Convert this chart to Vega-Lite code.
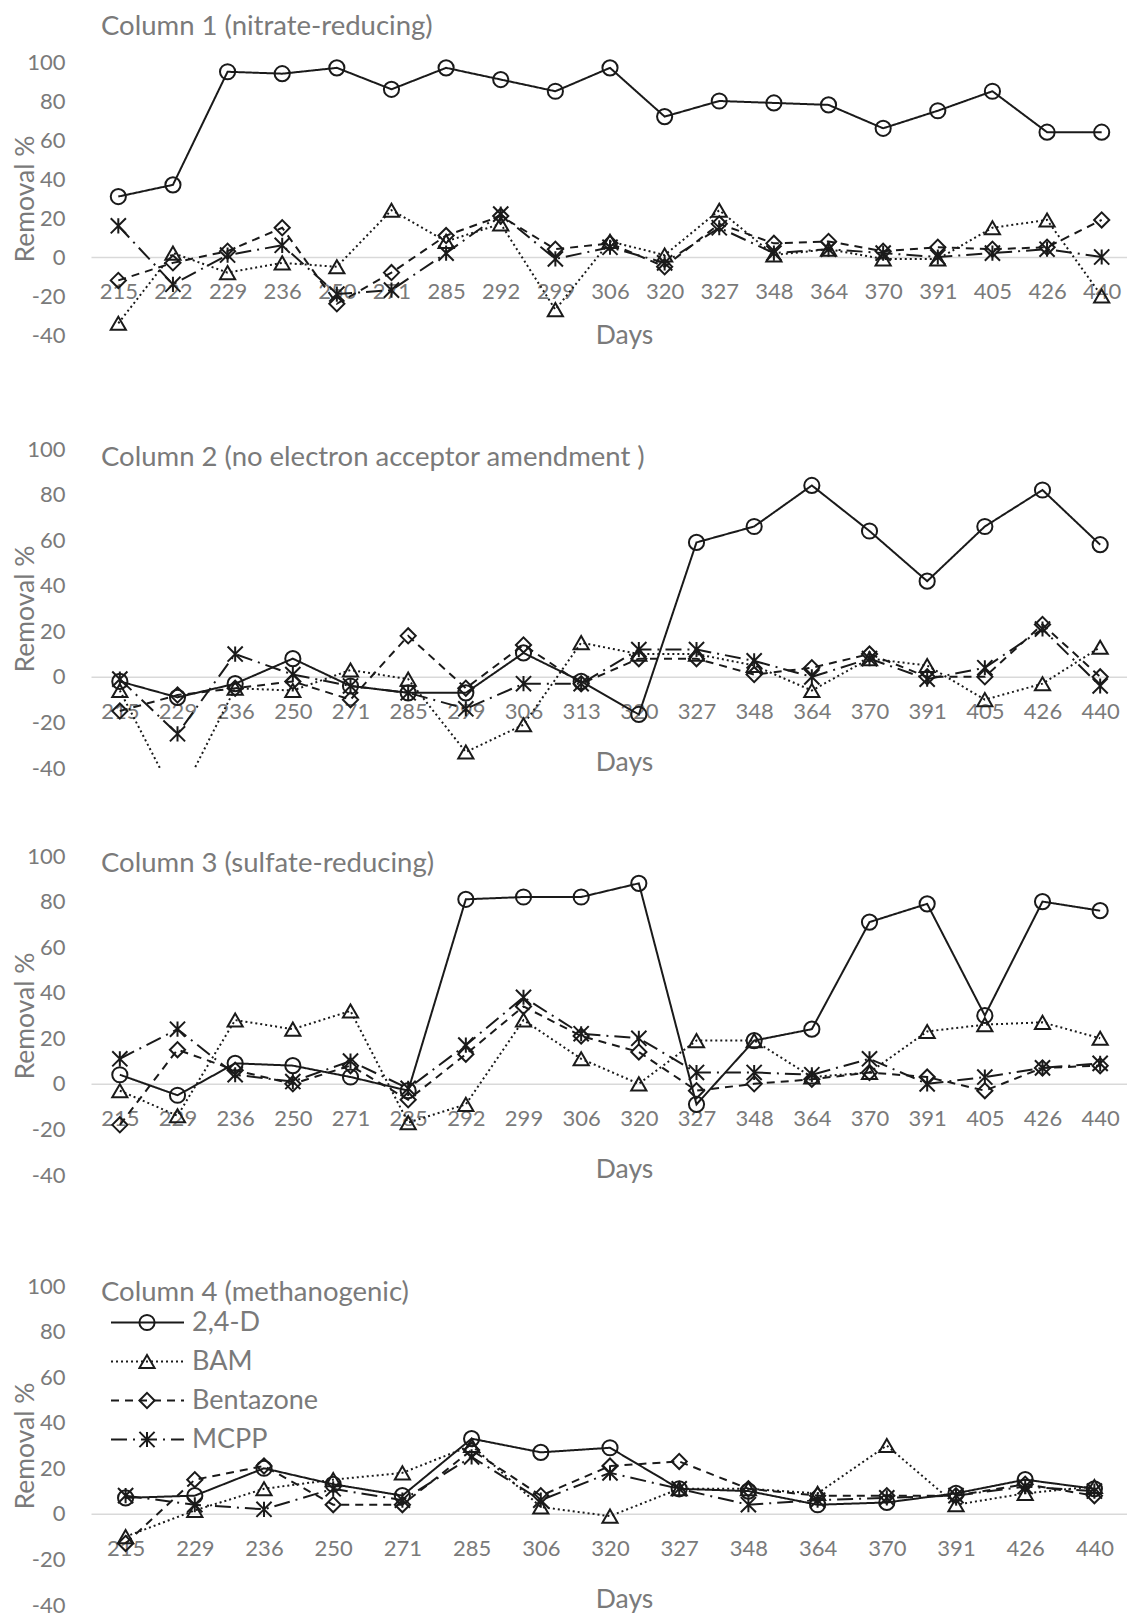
{
  "$schema": "https://vega.github.io/schema/vega-lite/v6.json",
  "padding": {"left": 11, "top": 12, "right": 0, "bottom": 0},
  "background": "white",
  "config": {
    "font": "Lato",
    "view": {"stroke": null},
    "axis": {"grid": false, "ticks": false, "labelColor": "#7a7a7a", "titleColor": "#7a7a7a", "labelFontSize": 22, "titleFontSize": 26.5, "titleFontWeight": "normal"},
    "axisX": {"domainColor": "#d9d9d9", "domainWidth": 1.5, "labelAngle": 0, "labelPadding": 25, "titleX": 533, "titleBaseline": "middle", "labelOverlap": false},
    "axisY": {"domain": false, "labelPadding": 26, "titleX": -66, "titleBaseline": "middle", "labelExpr": "'' + datum.value"},
    "title": {"anchor": "start", "frame": "group", "fontSize": 27.5, "fontWeight": "normal", "color": "#7a7a7a", "dx": 10}
  },
  "data": {"values": [
    {"p":1,"d":"215","c":"2,4-D","v":31},{"p":1,"d":"222","c":"2,4-D","v":37},{"p":1,"d":"229","c":"2,4-D","v":95},{"p":1,"d":"236","c":"2,4-D","v":94},{"p":1,"d":"250","c":"2,4-D","v":97},{"p":1,"d":"271","c":"2,4-D","v":86},{"p":1,"d":"285","c":"2,4-D","v":97},{"p":1,"d":"292","c":"2,4-D","v":91},{"p":1,"d":"299","c":"2,4-D","v":85},{"p":1,"d":"306","c":"2,4-D","v":97},{"p":1,"d":"320","c":"2,4-D","v":72},{"p":1,"d":"327","c":"2,4-D","v":80},{"p":1,"d":"348","c":"2,4-D","v":79},{"p":1,"d":"364","c":"2,4-D","v":78},{"p":1,"d":"370","c":"2,4-D","v":66},{"p":1,"d":"391","c":"2,4-D","v":75},{"p":1,"d":"405","c":"2,4-D","v":85},{"p":1,"d":"426","c":"2,4-D","v":64},{"p":1,"d":"440","c":"2,4-D","v":64},
    {"p":1,"d":"215","c":"BAM","v":-34},{"p":1,"d":"222","c":"BAM","v":2},{"p":1,"d":"229","c":"BAM","v":-8},{"p":1,"d":"236","c":"BAM","v":-3},{"p":1,"d":"250","c":"BAM","v":-5},{"p":1,"d":"271","c":"BAM","v":24},{"p":1,"d":"285","c":"BAM","v":8},{"p":1,"d":"292","c":"BAM","v":17},{"p":1,"d":"299","c":"BAM","v":-27},{"p":1,"d":"306","c":"BAM","v":8},{"p":1,"d":"320","c":"BAM","v":1},{"p":1,"d":"327","c":"BAM","v":24},{"p":1,"d":"348","c":"BAM","v":1},{"p":1,"d":"364","c":"BAM","v":4},{"p":1,"d":"370","c":"BAM","v":-1},{"p":1,"d":"391","c":"BAM","v":-1},{"p":1,"d":"405","c":"BAM","v":15},{"p":1,"d":"426","c":"BAM","v":19},{"p":1,"d":"440","c":"BAM","v":-20},
    {"p":1,"d":"215","c":"Bentazone","v":-12},{"p":1,"d":"222","c":"Bentazone","v":-3},{"p":1,"d":"229","c":"Bentazone","v":3},{"p":1,"d":"236","c":"Bentazone","v":15},{"p":1,"d":"250","c":"Bentazone","v":-24},{"p":1,"d":"271","c":"Bentazone","v":-8},{"p":1,"d":"285","c":"Bentazone","v":11},{"p":1,"d":"292","c":"Bentazone","v":21},{"p":1,"d":"299","c":"Bentazone","v":4},{"p":1,"d":"306","c":"Bentazone","v":7},{"p":1,"d":"320","c":"Bentazone","v":-5},{"p":1,"d":"327","c":"Bentazone","v":17},{"p":1,"d":"348","c":"Bentazone","v":7},{"p":1,"d":"364","c":"Bentazone","v":8},{"p":1,"d":"370","c":"Bentazone","v":3},{"p":1,"d":"391","c":"Bentazone","v":5},{"p":1,"d":"405","c":"Bentazone","v":4},{"p":1,"d":"426","c":"Bentazone","v":5},{"p":1,"d":"440","c":"Bentazone","v":19},
    {"p":1,"d":"215","c":"MCPP","v":16},{"p":1,"d":"222","c":"MCPP","v":-14},{"p":1,"d":"229","c":"MCPP","v":1},{"p":1,"d":"236","c":"MCPP","v":6},{"p":1,"d":"250","c":"MCPP","v":-19},{"p":1,"d":"271","c":"MCPP","v":-17},{"p":1,"d":"285","c":"MCPP","v":2},{"p":1,"d":"292","c":"MCPP","v":22},{"p":1,"d":"299","c":"MCPP","v":-1},{"p":1,"d":"306","c":"MCPP","v":5},{"p":1,"d":"320","c":"MCPP","v":-3},{"p":1,"d":"327","c":"MCPP","v":15},{"p":1,"d":"348","c":"MCPP","v":2},{"p":1,"d":"364","c":"MCPP","v":4},{"p":1,"d":"370","c":"MCPP","v":2},{"p":1,"d":"391","c":"MCPP","v":0},{"p":1,"d":"405","c":"MCPP","v":2},{"p":1,"d":"426","c":"MCPP","v":4},{"p":1,"d":"440","c":"MCPP","v":0},

    {"p":2,"d":"215","c":"2,4-D","v":-2},{"p":2,"d":"229","c":"2,4-D","v":-9},{"p":2,"d":"236","c":"2,4-D","v":-3},{"p":2,"d":"250","c":"2,4-D","v":8},{"p":2,"d":"271","c":"2,4-D","v":-4},{"p":2,"d":"285","c":"2,4-D","v":-7},{"p":2,"d":"299","c":"2,4-D","v":-7},{"p":2,"d":"306","c":"2,4-D","v":10.5},{"p":2,"d":"313","c":"2,4-D","v":-2},{"p":2,"d":"320","c":"2,4-D","v":-16.5},{"p":2,"d":"327","c":"2,4-D","v":59},{"p":2,"d":"348","c":"2,4-D","v":66},{"p":2,"d":"364","c":"2,4-D","v":84},{"p":2,"d":"370","c":"2,4-D","v":64},{"p":2,"d":"391","c":"2,4-D","v":42},{"p":2,"d":"405","c":"2,4-D","v":66},{"p":2,"d":"426","c":"2,4-D","v":82},{"p":2,"d":"440","c":"2,4-D","v":58},
    {"p":2,"d":"215","c":"BAM","v":-6},{"p":2,"d":"229","c":"BAM","v":-55},{"p":2,"d":"236","c":"BAM","v":-5},{"p":2,"d":"250","c":"BAM","v":-6},{"p":2,"d":"271","c":"BAM","v":3},{"p":2,"d":"285","c":"BAM","v":-1},{"p":2,"d":"299","c":"BAM","v":-33},{"p":2,"d":"306","c":"BAM","v":-21},{"p":2,"d":"313","c":"BAM","v":15},{"p":2,"d":"320","c":"BAM","v":10},{"p":2,"d":"327","c":"BAM","v":10},{"p":2,"d":"348","c":"BAM","v":5},{"p":2,"d":"364","c":"BAM","v":-6},{"p":2,"d":"370","c":"BAM","v":8},{"p":2,"d":"391","c":"BAM","v":5},{"p":2,"d":"405","c":"BAM","v":-10},{"p":2,"d":"426","c":"BAM","v":-3},{"p":2,"d":"440","c":"BAM","v":13},
    {"p":2,"d":"215","c":"Bentazone","v":-15},{"p":2,"d":"229","c":"Bentazone","v":-8},{"p":2,"d":"236","c":"Bentazone","v":-5},{"p":2,"d":"250","c":"Bentazone","v":-2},{"p":2,"d":"271","c":"Bentazone","v":-10},{"p":2,"d":"285","c":"Bentazone","v":18},{"p":2,"d":"299","c":"Bentazone","v":-5},{"p":2,"d":"306","c":"Bentazone","v":14},{"p":2,"d":"313","c":"Bentazone","v":-3},{"p":2,"d":"320","c":"Bentazone","v":8},{"p":2,"d":"327","c":"Bentazone","v":8},{"p":2,"d":"348","c":"Bentazone","v":1},{"p":2,"d":"364","c":"Bentazone","v":4},{"p":2,"d":"370","c":"Bentazone","v":10},{"p":2,"d":"391","c":"Bentazone","v":0},{"p":2,"d":"405","c":"Bentazone","v":0},{"p":2,"d":"426","c":"Bentazone","v":23},{"p":2,"d":"440","c":"Bentazone","v":0},
    {"p":2,"d":"215","c":"MCPP","v":-1},{"p":2,"d":"229","c":"MCPP","v":-25},{"p":2,"d":"236","c":"MCPP","v":10},{"p":2,"d":"250","c":"MCPP","v":1},{"p":2,"d":"271","c":"MCPP","v":-4},{"p":2,"d":"285","c":"MCPP","v":-7},{"p":2,"d":"299","c":"MCPP","v":-14},{"p":2,"d":"306","c":"MCPP","v":-3},{"p":2,"d":"313","c":"MCPP","v":-3},{"p":2,"d":"320","c":"MCPP","v":12},{"p":2,"d":"327","c":"MCPP","v":12},{"p":2,"d":"348","c":"MCPP","v":7},{"p":2,"d":"364","c":"MCPP","v":0},{"p":2,"d":"370","c":"MCPP","v":8},{"p":2,"d":"391","c":"MCPP","v":-1},{"p":2,"d":"405","c":"MCPP","v":4},{"p":2,"d":"426","c":"MCPP","v":21},{"p":2,"d":"440","c":"MCPP","v":-4},

    {"p":3,"d":"215","c":"2,4-D","v":4},{"p":3,"d":"229","c":"2,4-D","v":-5},{"p":3,"d":"236","c":"2,4-D","v":9},{"p":3,"d":"250","c":"2,4-D","v":8},{"p":3,"d":"271","c":"2,4-D","v":3},{"p":3,"d":"285","c":"2,4-D","v":-3},{"p":3,"d":"292","c":"2,4-D","v":81},{"p":3,"d":"299","c":"2,4-D","v":82},{"p":3,"d":"306","c":"2,4-D","v":82},{"p":3,"d":"320","c":"2,4-D","v":88},{"p":3,"d":"327","c":"2,4-D","v":-9},{"p":3,"d":"348","c":"2,4-D","v":19},{"p":3,"d":"364","c":"2,4-D","v":24},{"p":3,"d":"370","c":"2,4-D","v":71},{"p":3,"d":"391","c":"2,4-D","v":79},{"p":3,"d":"405","c":"2,4-D","v":30},{"p":3,"d":"426","c":"2,4-D","v":80},{"p":3,"d":"440","c":"2,4-D","v":76},
    {"p":3,"d":"215","c":"BAM","v":-3},{"p":3,"d":"229","c":"BAM","v":-14},{"p":3,"d":"236","c":"BAM","v":28},{"p":3,"d":"250","c":"BAM","v":24},{"p":3,"d":"271","c":"BAM","v":32},{"p":3,"d":"285","c":"BAM","v":-17},{"p":3,"d":"292","c":"BAM","v":-9},{"p":3,"d":"299","c":"BAM","v":28},{"p":3,"d":"306","c":"BAM","v":11},{"p":3,"d":"320","c":"BAM","v":0},{"p":3,"d":"327","c":"BAM","v":19},{"p":3,"d":"348","c":"BAM","v":19},{"p":3,"d":"364","c":"BAM","v":3},{"p":3,"d":"370","c":"BAM","v":5},{"p":3,"d":"391","c":"BAM","v":23},{"p":3,"d":"405","c":"BAM","v":26},{"p":3,"d":"426","c":"BAM","v":27},{"p":3,"d":"440","c":"BAM","v":20},
    {"p":3,"d":"215","c":"Bentazone","v":-18},{"p":3,"d":"229","c":"Bentazone","v":15},{"p":3,"d":"236","c":"Bentazone","v":6},{"p":3,"d":"250","c":"Bentazone","v":0},{"p":3,"d":"271","c":"Bentazone","v":8},{"p":3,"d":"285","c":"Bentazone","v":-7},{"p":3,"d":"292","c":"Bentazone","v":13},{"p":3,"d":"299","c":"Bentazone","v":34},{"p":3,"d":"306","c":"Bentazone","v":21},{"p":3,"d":"320","c":"Bentazone","v":14},{"p":3,"d":"327","c":"Bentazone","v":-3},{"p":3,"d":"348","c":"Bentazone","v":0},{"p":3,"d":"364","c":"Bentazone","v":2},{"p":3,"d":"370","c":"Bentazone","v":5},{"p":3,"d":"391","c":"Bentazone","v":3},{"p":3,"d":"405","c":"Bentazone","v":-3},{"p":3,"d":"426","c":"Bentazone","v":7},{"p":3,"d":"440","c":"Bentazone","v":8},
    {"p":3,"d":"215","c":"MCPP","v":11},{"p":3,"d":"229","c":"MCPP","v":24},{"p":3,"d":"236","c":"MCPP","v":4},{"p":3,"d":"250","c":"MCPP","v":1},{"p":3,"d":"271","c":"MCPP","v":10},{"p":3,"d":"285","c":"MCPP","v":-2},{"p":3,"d":"292","c":"MCPP","v":17},{"p":3,"d":"299","c":"MCPP","v":38},{"p":3,"d":"306","c":"MCPP","v":22},{"p":3,"d":"320","c":"MCPP","v":20},{"p":3,"d":"327","c":"MCPP","v":5},{"p":3,"d":"348","c":"MCPP","v":5},{"p":3,"d":"364","c":"MCPP","v":4},{"p":3,"d":"370","c":"MCPP","v":11},{"p":3,"d":"391","c":"MCPP","v":0},{"p":3,"d":"405","c":"MCPP","v":3},{"p":3,"d":"426","c":"MCPP","v":7},{"p":3,"d":"440","c":"MCPP","v":9},

    {"p":4,"d":"215","c":"2,4-D","v":7},{"p":4,"d":"229","c":"2,4-D","v":8},{"p":4,"d":"236","c":"2,4-D","v":20},{"p":4,"d":"250","c":"2,4-D","v":13},{"p":4,"d":"271","c":"2,4-D","v":8},{"p":4,"d":"285","c":"2,4-D","v":33},{"p":4,"d":"306","c":"2,4-D","v":27},{"p":4,"d":"320","c":"2,4-D","v":29},{"p":4,"d":"327","c":"2,4-D","v":11},{"p":4,"d":"348","c":"2,4-D","v":10},{"p":4,"d":"364","c":"2,4-D","v":4},{"p":4,"d":"370","c":"2,4-D","v":5},{"p":4,"d":"391","c":"2,4-D","v":9},{"p":4,"d":"426","c":"2,4-D","v":15},{"p":4,"d":"440","c":"2,4-D","v":11},
    {"p":4,"d":"215","c":"BAM","v":-10},{"p":4,"d":"229","c":"BAM","v":1.5},{"p":4,"d":"236","c":"BAM","v":11},{"p":4,"d":"250","c":"BAM","v":15},{"p":4,"d":"271","c":"BAM","v":18},{"p":4,"d":"285","c":"BAM","v":30},{"p":4,"d":"306","c":"BAM","v":3},{"p":4,"d":"320","c":"BAM","v":-1},{"p":4,"d":"327","c":"BAM","v":11},{"p":4,"d":"348","c":"BAM","v":11},{"p":4,"d":"364","c":"BAM","v":9},{"p":4,"d":"370","c":"BAM","v":30},{"p":4,"d":"391","c":"BAM","v":4},{"p":4,"d":"426","c":"BAM","v":9},{"p":4,"d":"440","c":"BAM","v":12},
    {"p":4,"d":"215","c":"Bentazone","v":-13},{"p":4,"d":"229","c":"Bentazone","v":15},{"p":4,"d":"236","c":"Bentazone","v":21},{"p":4,"d":"250","c":"Bentazone","v":4},{"p":4,"d":"271","c":"Bentazone","v":4},{"p":4,"d":"285","c":"Bentazone","v":28},{"p":4,"d":"306","c":"Bentazone","v":8},{"p":4,"d":"320","c":"Bentazone","v":21},{"p":4,"d":"327","c":"Bentazone","v":23},{"p":4,"d":"348","c":"Bentazone","v":11},{"p":4,"d":"364","c":"Bentazone","v":8},{"p":4,"d":"370","c":"Bentazone","v":8},{"p":4,"d":"391","c":"Bentazone","v":8},{"p":4,"d":"426","c":"Bentazone","v":13},{"p":4,"d":"440","c":"Bentazone","v":8},
    {"p":4,"d":"215","c":"MCPP","v":8},{"p":4,"d":"229","c":"MCPP","v":4},{"p":4,"d":"236","c":"MCPP","v":2},{"p":4,"d":"250","c":"MCPP","v":11},{"p":4,"d":"271","c":"MCPP","v":6},{"p":4,"d":"285","c":"MCPP","v":25},{"p":4,"d":"306","c":"MCPP","v":6},{"p":4,"d":"320","c":"MCPP","v":18},{"p":4,"d":"327","c":"MCPP","v":11},{"p":4,"d":"348","c":"MCPP","v":4},{"p":4,"d":"364","c":"MCPP","v":6},{"p":4,"d":"370","c":"MCPP","v":7},{"p":4,"d":"391","c":"MCPP","v":8},{"p":4,"d":"426","c":"MCPP","v":12},{"p":4,"d":"440","c":"MCPP","v":10}
  ]},
  "resolve": {"scale": {"shape": "independent", "strokeDash": "independent"}},
  "spacing": 89,
  "vconcat": [
    {
      "width": 1038, "height": 273,
      "title": {"text": "Column 1 (nitrate-reducing)", "offset": 11},
      "transform": [{"filter": "datum.p == 1"}],
      "encoding": {
        "x": {"field": "d", "type": "ordinal", "scale": {"type": "point", "padding": 0.5}, "axis": {"title": "Days", "offset": -78, "titleY": 78, "labelPadding": 24}},
        "y": {"field": "v", "type": "quantitative", "scale": {"domain": [-40, 100], "nice": false}, "axis": {"title": "Removal %", "values": [-40, -20, 0, 20, 40, 60, 80, 100]}}
      },
      "layer": [
        {"mark": {"type": "line", "clip": true, "strokeWidth": 2, "color": "#1a1a1a"},
         "encoding": {"strokeDash": {"field": "c", "type": "nominal", "scale": {"domain": ["2,4-D", "BAM", "Bentazone", "MCPP"], "range": [[1, 0], [2, 3], [8, 6], [16, 6, 2, 6]]}, "legend": null}}},
        {"transform": [{"filter": "datum.v >= -40"}],
         "mark": {"type": "point", "filled": false, "size": 230, "strokeWidth": 2, "color": "#1a1a1a", "opacity": 1},
         "encoding": {"shape": {"field": "c", "type": "nominal", "scale": {"range": ["circle", "triangle-up", "diamond", "M -1 -1 L 1 1 M -1 1 L 1 -1 M 0 -1 L 0 1"]}, "legend": null}}}
      ]
    },
    {
      "spacing": 66,
      "resolve": {"scale": {"shape": "independent", "strokeDash": "independent"}},
      "vconcat": [
        {
          "width": 1038, "height": 319,
          "title": {"text": "Column 2 (no electron acceptor amendment )", "offset": -33},
          "transform": [{"filter": "datum.p == 2"}],
          "encoding": {
            "x": {"field": "d", "type": "ordinal", "scale": {"type": "point", "padding": 0.5}, "axis": {"title": "Days", "offset": -91.14, "titleY": 86}},
            "y": {"field": "v", "type": "quantitative", "scale": {"domain": [-40, 100], "nice": false}, "axis": {"title": "Removal %", "values": [-40, -20, 0, 20, 40, 60, 80, 100]}}
          },
          "layer": [
            {"mark": {"type": "line", "clip": true, "strokeWidth": 2, "color": "#1a1a1a"},
             "encoding": {"strokeDash": {"field": "c", "type": "nominal", "scale": {"domain": ["2,4-D", "BAM", "Bentazone", "MCPP"], "range": [[1, 0], [2, 3], [8, 6], [16, 6, 2, 6]]}, "legend": null}}},
            {"transform": [{"filter": "datum.v >= -40"}],
             "mark": {"type": "point", "filled": false, "size": 230, "strokeWidth": 2, "color": "#1a1a1a", "opacity": 1},
             "encoding": {"shape": {"field": "c", "type": "nominal", "scale": {"range": ["circle", "triangle-up", "diamond", "M -1 -1 L 1 1 M -1 1 L 1 -1 M 0 -1 L 0 1"]}, "legend": null}}}
          ]
        },
        {
          "width": 1038, "height": 319,
          "title": {"text": "Column 3 (sulfate-reducing)", "offset": -32},
          "transform": [{"filter": "datum.p == 3"}],
          "encoding": {
            "x": {"field": "d", "type": "ordinal", "scale": {"type": "point", "padding": 0.5}, "axis": {"title": "Days", "offset": -91.14, "titleY": 86}},
            "y": {"field": "v", "type": "quantitative", "scale": {"domain": [-40, 100], "nice": false}, "axis": {"title": "Removal %", "values": [-40, -20, 0, 20, 40, 60, 80, 100]}}
          },
          "layer": [
            {"mark": {"type": "line", "clip": true, "strokeWidth": 2, "color": "#1a1a1a"},
             "encoding": {"strokeDash": {"field": "c", "type": "nominal", "scale": {"domain": ["2,4-D", "BAM", "Bentazone", "MCPP"], "range": [[1, 0], [2, 3], [8, 6], [16, 6, 2, 6]]}, "legend": null}}},
            {"transform": [{"filter": "datum.v >= -40"}],
             "mark": {"type": "point", "filled": false, "size": 230, "strokeWidth": 2, "color": "#1a1a1a", "opacity": 1},
             "encoding": {"shape": {"field": "c", "type": "nominal", "scale": {"range": ["circle", "triangle-up", "diamond", "M -1 -1 L 1 1 M -1 1 L 1 -1 M 0 -1 L 0 1"]}, "legend": null}}}
          ]
        }
      ]
    },
    {
      "width": 1038, "height": 319,
      "title": {"text": "Column 4 (methanogenic)", "offset": -31.5},
      "transform": [{"filter": "datum.p == 4"}],
      "encoding": {
        "x": {"field": "d", "type": "ordinal", "scale": {"type": "point", "padding": 0.5}, "axis": {"title": "Days", "offset": -91.14, "titleY": 86}},
        "y": {"field": "v", "type": "quantitative", "scale": {"domain": [-40, 100], "nice": false}, "axis": {"title": "Removal %", "values": [-40, -20, 0, 20, 40, 60, 80, 100]}}
      },
      "layer": [
        {"mark": {"type": "line", "clip": true, "strokeWidth": 2, "color": "#1a1a1a"},
         "encoding": {"strokeDash": {"field": "c", "type": "nominal", "scale": {"domain": ["2,4-D", "BAM", "Bentazone", "MCPP"], "range": [[1, 0], [2, 3], [8, 6], [16, 6, 2, 6]]},
           "legend": {"orient": "none", "legendX": 19, "legendY": 17, "title": null, "symbolType": "stroke", "symbolSize": 5329, "symbolStrokeWidth": 2, "symbolStrokeColor": "#1a1a1a", "labelFontSize": 27, "labelColor": "#7a7a7a", "labelOffset": 7, "clipHeight": 39, "rowPadding": 0, "padding": 0}}}},
        {"transform": [{"filter": "datum.v >= -40"}],
         "mark": {"type": "point", "filled": false, "size": 230, "strokeWidth": 2, "color": "#1a1a1a", "opacity": 1},
         "encoding": {"shape": {"field": "c", "type": "nominal", "scale": {"range": ["circle", "triangle-up", "diamond", "M -1 -1 L 1 1 M -1 1 L 1 -1 M 0 -1 L 0 1"]},
           "legend": {"orient": "none", "legendX": 47, "legendY": 17, "title": null, "symbolSize": 230, "symbolStrokeWidth": 2, "symbolStrokeColor": "#1a1a1a", "symbolFillColor": "transparent", "labelExpr": "''", "labelFontSize": 1, "clipHeight": 39, "rowPadding": 0, "padding": 0}}}}
      ]
    }
  ]
}
